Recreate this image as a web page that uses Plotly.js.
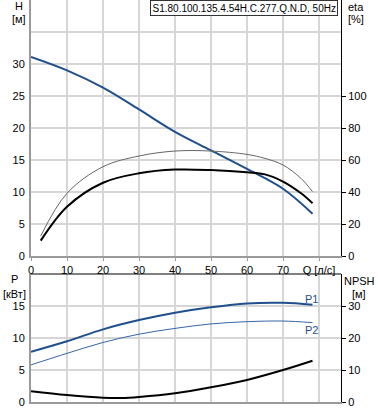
<!DOCTYPE html>
<html>
<head>
<meta charset="utf-8">
<script src="https://cdn.plot.ly/plotly-3.0.1.min.js"></script>
<style>html,body{margin:0;padding:0;background:#fff;}#chart{width:378px;height:410px;}</style>
</head>
<body>
<div id="chart"></div>
<script>
// ---- data ----
const qH = [0, 10, 20, 30, 40, 50, 60, 70, 78.2];
const headH = [31.1, 29.0, 26.3, 22.9, 19.4, 16.5, 13.6, 10.5, 6.6];

const qEta = [2.7, 10, 20, 30, 40, 50, 60, 65, 70, 75, 78.2];
const etaTotal = [9.6, 30.8, 45.8, 51.7, 54.0, 53.7, 52.3, 51.0, 46.5, 39.2, 33.0];
const etaHydr = [12.5, 39.2, 55.8, 62.5, 65.6, 65.6, 63.5, 61.0, 56.9, 48.5, 40.2];

const qP = [0, 10, 20, 30, 40, 50, 60, 70, 78.2];
const p1 = [7.86, 9.5, 11.35, 12.8, 13.95, 14.8, 15.4, 15.5, 15.2];
const p2 = [5.8, 7.6, 9.3, 10.6, 11.5, 12.2, 12.55, 12.65, 12.4];

const qN = [0, 10, 20, 25, 30, 40, 50, 60, 70, 78.2];
const npsh = [3.4, 2.2, 1.35, 1.25, 1.56, 2.7, 4.6, 6.9, 10.0, 12.9];

const xTickVals = [0, 10, 20, 30, 40, 50, 60, 70, 80];
const xTickText = ['0', '10', '20', '30', '40', '50', '60', '70', 'Q [л/с]'];
const hTickVals = [0, 5, 10, 15, 20, 25, 30, 35];
const hTickText = ['0', '5', '10', '15', '20', '25', '30', ''];
const etaTickVals = [0, 20, 40, 60, 80, 100];
const pTickVals = [0, 5, 10, 15];
const npshTickVals = [0, 10, 20, 30];
const titleText = 'S1.80.100.135.4.54H.C.277.Q.N.D, 50Hz';

// ---- geometry helpers ----
const W = 378, Hpx = 410, L = 31, R = 37, T = 0, B = 8;
const pw = W - L - R, ph = Hpx - T - B;
const px = x => (x - L) / pw;
const py = y => (Hpx - B - y) / ph;

const blue = '#1f4f8c';
const blueThin = '#3567a8';
const grid = '#d6d6d6';
const axisGray = '#9a9a9a';
const font = {family: 'Liberation Sans, Arial, sans-serif', size: 11, color: '#000'};

const traces = [
  {x: qEta, y: etaHydr, xaxis: 'x', yaxis: 'y2', mode: 'lines', line: {color: '#666', width: 1, shape: 'spline'}, hoverinfo: 'skip'},
  {x: qEta, y: etaTotal, xaxis: 'x', yaxis: 'y2', mode: 'lines', line: {color: '#000', width: 2, shape: 'spline'}, hoverinfo: 'skip'},
  {x: qH, y: headH, xaxis: 'x', yaxis: 'y', mode: 'lines', line: {color: blue, width: 2, shape: 'spline'}, hoverinfo: 'skip'},
  {x: qP, y: p2, xaxis: 'x2', yaxis: 'y3', mode: 'lines', line: {color: blueThin, width: 1, shape: 'spline'}, hoverinfo: 'skip'},
  {x: qP, y: p1, xaxis: 'x2', yaxis: 'y3', mode: 'lines', line: {color: blue, width: 2, shape: 'spline'}, hoverinfo: 'skip'},
  {x: qN, y: npsh, xaxis: 'x2', yaxis: 'y4', mode: 'lines', line: {color: '#000', width: 2, shape: 'spline'}, hoverinfo: 'skip'}
];

const topDom = [py(256), 1];
const botDom = [0, py(274)];
const xr = [0, (341 - 31) / 3.6];

const layout = {
  width: W, height: Hpx,
  margin: {l: L, r: R, t: T, b: B, pad: 0},
  paper_bgcolor: '#fff', plot_bgcolor: '#fff',
  showlegend: false,
  font: font,
  xaxis: {domain: [0, 1], range: xr, anchor: 'y', tickvals: xTickVals, ticktext: xTickText,
    showgrid: true, gridcolor: grid, gridwidth: 2, showline: true, linecolor: axisGray, linewidth: 2,
    ticks: 'outside', ticklen: 3, tickcolor: axisGray, zeroline: false, tickfont: font, fixedrange: true},
  yaxis: {domain: topDom, range: [0, 40], anchor: 'x', tickvals: hTickVals, ticktext: hTickText,
    showgrid: true, gridcolor: grid, gridwidth: 2, showline: true, linecolor: axisGray, linewidth: 2,
    ticks: 'outside', ticklen: 2, tickcolor: 'rgba(0,0,0,0)', zeroline: false, tickfont: font},
  yaxis2: {overlaying: 'y', side: 'right', anchor: 'x', range: [0, 160], tickvals: etaTickVals,
    showgrid: false, showline: true, linecolor: '#000', linewidth: 1, ticks: 'outside', ticklen: 4,
    tickcolor: '#000', zeroline: false, tickfont: font},
  xaxis2: {domain: [0, 1], range: xr, anchor: 'y3', tickvals: xTickVals, showticklabels: false,
    showgrid: true, gridcolor: grid, gridwidth: 2, showline: true, linecolor: axisGray, linewidth: 2,
    ticks: '', zeroline: false},
  yaxis3: {domain: botDom, range: [0, 20], anchor: 'x2', tickvals: pTickVals,
    showgrid: true, gridcolor: grid, gridwidth: 2, showline: true, linecolor: axisGray, linewidth: 2,
    ticks: 'outside', ticklen: 2, tickcolor: 'rgba(0,0,0,0)', zeroline: false, tickfont: font},
  yaxis4: {overlaying: 'y3', side: 'right', anchor: 'x2', range: [0, 40], tickvals: npshTickVals,
    showgrid: false, showline: true, linecolor: '#000', linewidth: 1, ticks: 'outside', ticklen: 4,
    tickcolor: '#000', zeroline: false, tickfont: font},
  shapes: [
    {type: 'line', xref: 'paper', yref: 'paper', x0: 0, x1: 1, y0: py(274), y1: py(274),
      line: {color: '#000', width: 1}}
  ],
  annotations: [
    {text: titleText, xref: 'paper', yref: 'paper', x: px(338), y: 1, xanchor: 'right', yanchor: 'top',
      showarrow: false, bordercolor: '#333', borderwidth: 1, borderpad: 1.5, bgcolor: '#fff',
      font: Object.assign({}, font, {size: 10})},
    {text: 'H', xref: 'paper', yref: 'paper', x: px(19), y: py(6), xanchor: 'center', yanchor: 'middle', showarrow: false, font: font},
    {text: '[м]', xref: 'paper', yref: 'paper', x: px(19), y: py(19), xanchor: 'center', yanchor: 'middle', showarrow: false, font: font},
    {text: 'eta', xref: 'paper', yref: 'paper', x: px(346), y: py(7), xanchor: 'left', yanchor: 'middle', showarrow: false, font: font},
    {text: '[%]', xref: 'paper', yref: 'paper', x: px(346), y: py(19), xanchor: 'left', yanchor: 'middle', showarrow: false, font: font},
    {text: 'P', xref: 'paper', yref: 'paper', x: px(14.5), y: py(279), xanchor: 'center', yanchor: 'middle', showarrow: false, font: font},
    {text: '[кВт]', xref: 'paper', yref: 'paper', x: px(14.5), y: py(294), xanchor: 'center', yanchor: 'middle', showarrow: false, font: font},
    {text: 'NPSH', xref: 'paper', yref: 'paper', x: px(359), y: py(280.5), xanchor: 'center', yanchor: 'middle', showarrow: false, font: font},
    {text: '[м]', xref: 'paper', yref: 'paper', x: px(359), y: py(294), xanchor: 'center', yanchor: 'middle', showarrow: false, font: font},
    {text: 'P1', xref: 'paper', yref: 'paper', x: px(311), y: py(298.5), xanchor: 'center', yanchor: 'middle', showarrow: false, font: Object.assign({}, font, {color: blue})},
    {text: 'P2', xref: 'paper', yref: 'paper', x: px(311), y: py(329.5), xanchor: 'center', yanchor: 'middle', showarrow: false, font: Object.assign({}, font, {color: blue})}
  ]
};

Plotly.newPlot('chart', traces, layout, {displayModeBar: false, staticPlot: true});
</script>
</body>
</html>
